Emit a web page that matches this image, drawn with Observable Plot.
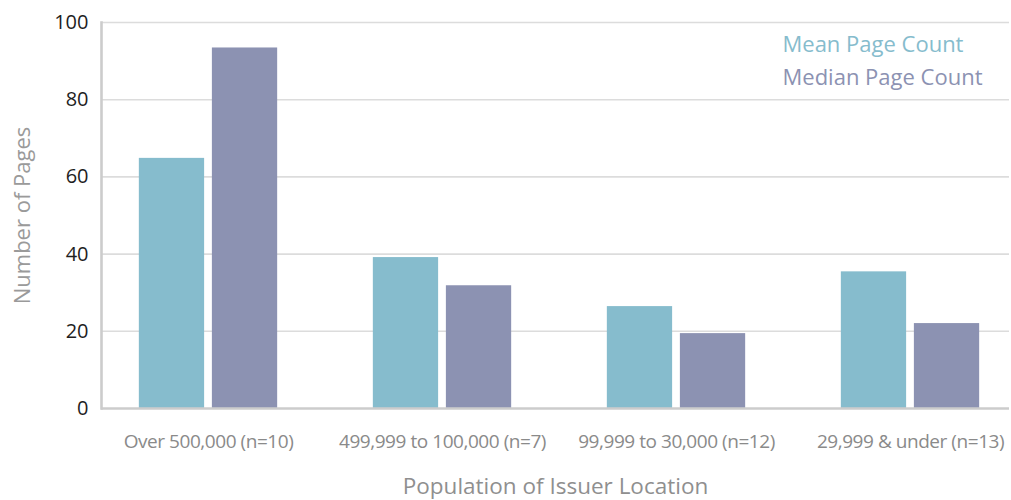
<!DOCTYPE html>
<html>
<head>
<meta charset="utf-8">
<script src="https://cdn.jsdelivr.net/npm/d3@7"></script>
<script src="https://cdn.jsdelivr.net/npm/@observablehq/plot@0.6"></script>
<style>
  html, body { margin: 0; padding: 0; background: #fff; }
  #chart svg { display: block; }
  #chart [aria-label="x-axis tick label"] text { letter-spacing: -0.45px; }
</style>
</head>
<body>
<div id="chart"></div>
<script>
// Page counts by population of the issuing location
const categories = [
  "Over 500,000 (n=10)",
  "499,999 to 100,000 (n=7)",
  "99,999 to 30,000 (n=12)",
  "29,999 & under (n=13)"
];
const series = ["Mean Page Count", "Median Page Count"];
const meanPages = [64.8, 39.1, 26.4, 35.4];
const medianPages = [93.4, 31.8, 19.4, 22.0];
const yTicks = [0, 20, 40, 60, 80, 100];
const xTitle = "Population of Issuer Location";
const yTitle = "Number of Pages";

const colors = ["#86bccd", "#8c92b2"];

const rows = categories.flatMap((c, i) => [
  {group: c, series: series[0], value: meanPages[i]},
  {group: c, series: series[1], value: medianPages[i]}
]);

// group bands and the two bars placed within each band
const xRange = [89, 1028];
const bw = (xRange[1] - xRange[0]) / categories.length;
const inner = d3.scaleBand(series, [0, bw]).paddingInner(0.096).paddingOuter(0.655);
const barMark = (s) => Plot.barY(rows.filter(d => d.series === s), {
  x: "group",
  y: "value",
  fill: "series",
  insetLeft: inner(s),
  insetRight: bw - inner(s) - inner.bandwidth()
});

const tickFont = "'Open Sans', 'Noto Sans', sans-serif";

const chart = Plot.plot({
  width: 1011,
  height: 500,
  marginLeft: 101,
  marginRight: 2,
  marginTop: 22,
  marginBottom: 92,
  style: {fontFamily: tickFont, background: "#fff"},
  x: {domain: categories, range: xRange, padding: 0},
  y: {domain: [0, 100]},
  color: {domain: series, range: colors},
  marks: [
    Plot.ruleY(yTicks.slice(1), {stroke: "#dcdcdc", strokeWidth: 1.6}),
    barMark(series[0]),
    barMark(series[1]),
    Plot.ruleY([0], {stroke: "#cccccc", strokeWidth: 2.6}),
    Plot.frame({anchor: "left", stroke: "#cccccc", strokeWidth: 2.6}),
    Plot.axisY(yTicks, {
      tickSize: 0, tickPadding: 13, fontSize: 20, fill: "#1e1e1e", label: null
    }),
    Plot.axisX({
      tickSize: 0, tickPadding: 26, fontSize: 19, fill: "#8a8a8a", label: null
    }),
    Plot.text([xTitle], {
      frameAnchor: "bottom", lineAnchor: "middle", dy: 78, fontSize: 22.5, fill: "#8f8f8f"
    }),
    Plot.text([yTitle], {
      frameAnchor: "left", textAnchor: "middle", dx: -79, rotate: -90,
      fontSize: 22, fill: "#9a9a9a"
    }),
    Plot.text([series[0]], {
      frameAnchor: "top-left", textAnchor: "start", lineAnchor: "middle",
      dx: 681, dy: 22, fontSize: 22, fill: colors[0]
    }),
    Plot.text([series[1]], {
      frameAnchor: "top-left", textAnchor: "start", lineAnchor: "middle",
      dx: 681, dy: 55, fontSize: 22, fill: colors[1]
    })
  ]
});

document.getElementById("chart").appendChild(chart);
</script>
</body>
</html>
